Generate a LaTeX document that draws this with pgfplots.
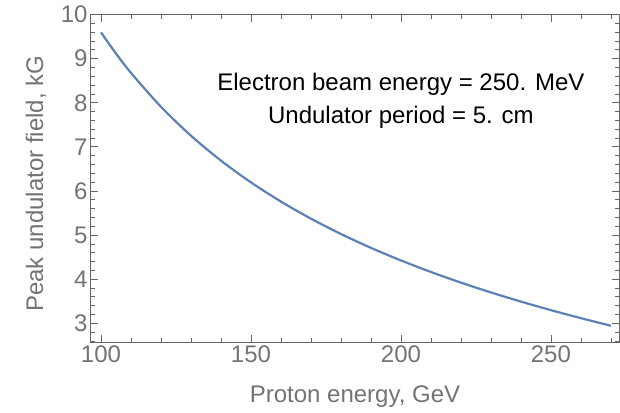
\documentclass[border=0pt]{standalone}
\usepackage{fontspec}
\setmainfont{Liberation Sans}
\usepackage{pgfplots}
\pgfplotsset{compat=1.18}
\definecolor{mmablue}{rgb}{0.368417,0.506779,0.709798}
\definecolor{framegray}{gray}{0.4}
\definecolor{labelgray}{gray}{0.45}
\begin{document}
\begin{tikzpicture}
\path[use as bounding box] (-91pt,-70pt) rectangle (529pt,342pt);
\begin{axis}[
  anchor=south west, at={(0pt,0pt)},
  scale only axis, width=528pt, height=327.4pt,
  xmin=96.67, xmax=272.7, ymin=2.576, ymax=10.0,
  axis line style={framegray, line width=1pt},
  xtick={100,150,200,250},
  ytick={3,4,5,6,7,8,9,10},
  minor xtick={100,110,...,270},
  minor ytick={2.6,2.8,...,10},
  tick align=inside,
  major tick length=7pt, minor tick length=4pt,
  tick style={framegray, line width=0.8pt},
  /pgf/number format/assume math mode=true,
  ticklabel style={font=\fontsize{24}{28}\selectfont, text=labelgray},
  xlabel={Proton energy, GeV},
  ylabel={Peak undulator field, kG},
  label style={font=\fontsize{24}{28}\selectfont, text=labelgray},
  x label style={at={(axis description cs:0.5,-0.186)}, anchor=base},
  y label style={at={(axis description cs:-0.0909,0.483)}, anchor=base, rotate=0},
]
\addplot[mmablue, line width=2.2pt, smooth] coordinates {
(100,9.5966) (105,9.1162) (110,8.6783) (120,7.9089) (130,7.2540) (140,6.6888)
(150,6.1953) (160,5.7600) (170,5.3727) (180,5.0251) (190,4.7110)
(200,4.4252) (210,4.1636) (220,3.9227) (230,3.6998) (240,3.4924)
(250,3.2986) (260,3.1167) (270,2.9451)
};
\node[anchor=base, font=\fontsize{24}{28}\selectfont] at (axis cs:200,8.283) {Electron beam energy = 250. MeV};
\node[anchor=base, font=\fontsize{24}{28}\selectfont] at (axis cs:200,7.528) {Undulator period = 5. cm};
\end{axis}
\end{tikzpicture}
\end{document}
